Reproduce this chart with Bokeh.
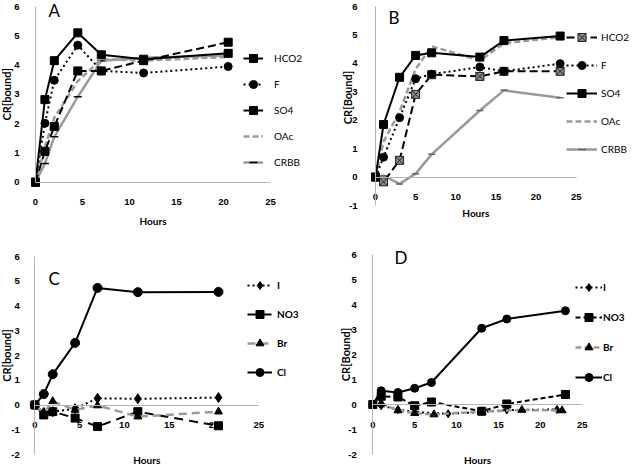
import math
from bokeh.plotting import figure
from bokeh.models import Range1d, LinearAxis, FixedTicker, Label
from bokeh.layouts import column, row
from bokeh.embed import file_html
from bokeh.resources import INLINE

# ---------------- data ----------------
x_ticks = [0, 5, 10, 15, 20, 25]

# Panel A
hours_A = [0, 1, 2, 4.5, 7, 11.5, 20.5]
A_HCO2 = [0, 1.05, 1.9, 3.8, 3.8, 4.15, 4.78]
A_F = [0, 2.01, 3.48, 4.68, 3.8, 3.73, 3.95]
A_SO4 = [0, 2.82, 4.15, 5.1, 4.35, 4.2, 4.4]
A_OAc = [0, 1.2, 2.2, 3.45, 4.2, 4.15, 4.28]
A_CRBB = [0, 0.64, 1.55, 2.92, 4.15, 4.25, 4.33]

# Panel B
hours_B = [0, 1, 3, 5, 7, 13, 16, 23]
B_HCO2 = [0, -0.17, 0.59, 2.91, 3.6, 3.54, 3.72, 3.72]
B_F = [0, 0.7, 2.09, 3.46, 3.62, 3.87, 3.72, 3.99]
B_SO4 = [0, 1.85, 3.51, 4.28, 4.37, 4.22, 4.8, 4.96]
B_OAc = [0, 1.25, 2.3, 3.8, 4.6, 4.1, 4.71, 4.92]
B_CRBB = [0, 0.05, -0.24, 0.12, 0.8, 2.34, 3.05, 2.79]

# Panel C
hours_C = [0, 1, 2, 4.5, 7, 11.5, 20.5]
C_I = [0, -0.3, -0.27, -0.15, 0.27, 0.25, 0.3]
C_NO3 = [0, -0.4, -0.27, -0.53, -0.87, -0.27, -0.84]
C_Br = [0, -0.31, 0.15, -0.2, -0.02, -0.47, -0.27]
C_Cl = [0, 0.44, 1.24, 2.51, 4.73, 4.56, 4.57]

# Panel D
hours_D = [0, 1, 3, 5, 7, 13, 16, 23]
D_NO3 = [0, 0.33, 0.3, -0.05, 0.1, -0.27, 0.02, 0.4]
D_Cl = [0, 0.55, 0.48, 0.65, 0.88, 3.05, 3.42, 3.75]
hours_D_I = [0, 1, 3, 5, 9, 13, 16, 22]
D_I = [0, -0.05, -0.2, -0.3, -0.37, -0.3, -0.22, -0.2]
hours_D_Br = [0, 1, 3, 5, 7.3, 13, 17.8, 22.6]
D_Br = [0, 0.05, -0.24, -0.35, -0.4, -0.28, -0.22, -0.24]

# ---------------- style ----------------
FONT = "Lato"
TICK_FONT = "Liberation Sans"
AXIS_GRAY = "#b4b4b4"
GRAY = "#9a9a9a"
BLACK = "#000000"


def make_fig(w, h, px0, px25, pyt, pyb, ymin, ymax, ytitle, ytitle_x, ytitle_y,
             ylab_standoff, hours_y):
    # frame spans the whole figure; px/py give where data values sit (figure pixels)
    sx = (px25 - px0) / 25.0
    sy = (pyb - pyt) / float(ymax - ymin)
    xr = Range1d(-px0 / sx, (w - px0) / sx)
    yr = Range1d(ymin - (h - pyb) / sy, ymax + pyt / sy)
    p = figure(width=w, height=h, x_range=xr, y_range=yr,
               x_axis_location=None, y_axis_location=None,
               output_backend="svg", toolbar_location=None, min_border=0,
               min_border_left=0, min_border_right=0,
               min_border_top=0, min_border_bottom=0)
    p.title.visible = False
    p.outline_line_color = None
    p.grid.visible = False

    # axes crossing at zero, drawn inside the frame
    yticks = list(range(ymin, ymax + 1))
    fy = LinearAxis(fixed_location=0, bounds=(ymin, ymax), ticker=FixedTicker(ticks=yticks))
    fy.major_label_overrides = {t: str(t) for t in yticks}
    fx = LinearAxis(fixed_location=0, bounds=(0, 25), ticker=FixedTicker(ticks=x_ticks))
    for ax in (fy, fx):
        ax.axis_line_color = AXIS_GRAY
        ax.axis_line_width = 1
        ax.major_tick_line_color = None
        ax.minor_tick_line_color = None
        ax.major_label_text_font = TICK_FONT
        ax.major_label_text_font_style = "bold"
        ax.major_label_text_font_size = "9.5px"
        ax.major_label_text_color = BLACK
    fy.major_label_standoff = ylab_standoff
    fx.major_label_standoff = 11
    p.add_layout(fy, "left")
    p.add_layout(fx, "below")

    # axis titles
    p.add_layout(Label(x=12.5, y=hours_y, x_units="data", y_units="screen", text="Hours",
                       text_font=FONT, text_font_style="bold", text_font_size="10px",
                       text_color=BLACK, text_align="center", text_baseline="middle"))
    p.add_layout(Label(x=ytitle_x, y=ytitle_y, x_units="screen", y_units="data", text=ytitle,
                       angle=math.pi / 2, text_font=FONT, text_font_style="bold",
                       text_font_size="11px", text_color=BLACK,
                       text_align="center", text_baseline="middle"))
    return p


def series(p, x, y, label, color, dash, width, marker=None, msize=8,
           mfill=BLACK, mline=BLACK, mwidth=1):
    p.line(x, y, line_color=color, line_dash=dash, line_width=width, legend_label=label)
    if marker:
        p.scatter(x, y, marker=marker, size=msize, fill_color=mfill,
                  line_color=mline, line_width=mwidth, legend_label=label)


def style_legend(p, vx, vy, spacing, gw, standoff, bold=False, order=None):
    lg = p.legend[0]
    if order:
        lg.items = sorted(lg.items, key=lambda it: order.index(it.label.value))
    lg.location = (vx, vy)
    lg.padding = 0
    lg.margin = 0
    lg.border_line_color = None
    lg.background_fill_alpha = 0
    lg.spacing = spacing
    lg.glyph_width = gw
    lg.glyph_height = 20
    lg.label_height = 20
    lg.label_standoff = standoff
    lg.label_text_font = FONT
    lg.label_text_font_size = "10px"
    lg.label_text_color = BLACK
    lg.label_text_font_style = "bold" if bold else "normal"


def letter(p, text, x, y):
    p.add_layout(Label(x=x, y=y, x_units="screen", y_units="screen", text=text,
                       text_font=FONT, text_font_size="17px", text_baseline="top",
                       text_color=BLACK))


LW = 318
RW = 315
TH = 230
BH = 237
order_top = ["HCO2", "F", "SO4", "OAc", "CRBB"]

# ---------- A ----------
pA = make_fig(LW, TH, 35, 270, 6, 181.7, 0, 6, "CR[bound]", 6, 3, 10, 10)
series(pA, hours_A, A_CRBB, "CRBB", GRAY, "solid", 2.5, "dash", 8, mline=BLACK, mwidth=1.5)
series(pA, hours_A, A_OAc, "OAc", GRAY, "6 3", 2.5)
series(pA, hours_A, A_HCO2, "HCO2", BLACK, "8 4", 2, "square", 8)
series(pA, hours_A, A_F, "F", BLACK, "2 3", 2, "circle", 8)
series(pA, hours_A, A_SO4, "SO4", BLACK, "solid", 2, "square", 8)
style_legend(pA, 243, TH - 172, 6, 20, 11, order=order_top)
letter(pA, "A", 48, TH + 1)

# ---------- B ----------
pB = make_fig(RW, TH, 57, 257.7, 6, 205, -1, 6, "CR[Bound]", 29, 2.8, 12, 18)
series(pB, hours_B, B_CRBB, "CRBB", GRAY, "solid", 2.5, "dash", 7, mline="#666666", mwidth=1.5)
series(pB, hours_B, B_OAc, "OAc", GRAY, "6 3", 2.5)
series(pB, hours_B, B_HCO2, "HCO2", BLACK, "8 4", 2, "square_x", 8, mfill="#8c8c8c", mline="#222222")
series(pB, hours_B, B_F, "F", BLACK, "2 3", 2, "circle", 8)
series(pB, hours_B, B_SO4, "SO4", BLACK, "solid", 2, "square", 8)
style_legend(pB, 248, TH - 159, 8, 31, 4, order=order_top)
letter(pB, "B", 70, TH - 6)

# ---------- C ----------
pC = make_fig(LW, BH, 34.3, 258.3, 26, 224, -2, 6, "CR[bound]", 6, 2, 9, 8)
series(pC, hours_C, C_I, "I", BLACK, "2 3", 2, "diamond", 10)
series(pC, hours_C, C_NO3, "NO3", BLACK, "9 6", 2, "square", 8)
series(pC, hours_C, C_Br, "Br", GRAY, "8 5", 2.5, "triangle", 8)
series(pC, hours_C, C_Cl, "Cl", BLACK, "solid", 2, "circle", 9)
style_legend(pC, 247, BH - 152, 9, 25, 5, bold=True)
letter(pC, "C", 48, BH - 37)

# ---------- D ----------
pD = make_fig(RW, BH, 54.3, 263.7, 24, 224, -2, 6, "CR[Bound]", 27, 2, 10, 8)
series(pD, hours_D_I, D_I, "I", BLACK, "2 3", 2, "diamond", 8)
series(pD, hours_D, D_NO3, "NO3", BLACK, "5 3", 2, "square", 8)
series(pD, hours_D_Br, D_Br, "Br", GRAY, "6 3", 2.5, "triangle", 8)
series(pD, hours_D, D_Cl, "Cl", BLACK, "solid", 2, "circle", 8)
style_legend(pD, 257, BH - 157, 10, 27, 1, bold=True)
letter(pD, "D", 76, BH - 16)

layout = column(row(pA, pB), row(pC, pD))
open("out.html", "w").write(file_html(layout, INLINE))
